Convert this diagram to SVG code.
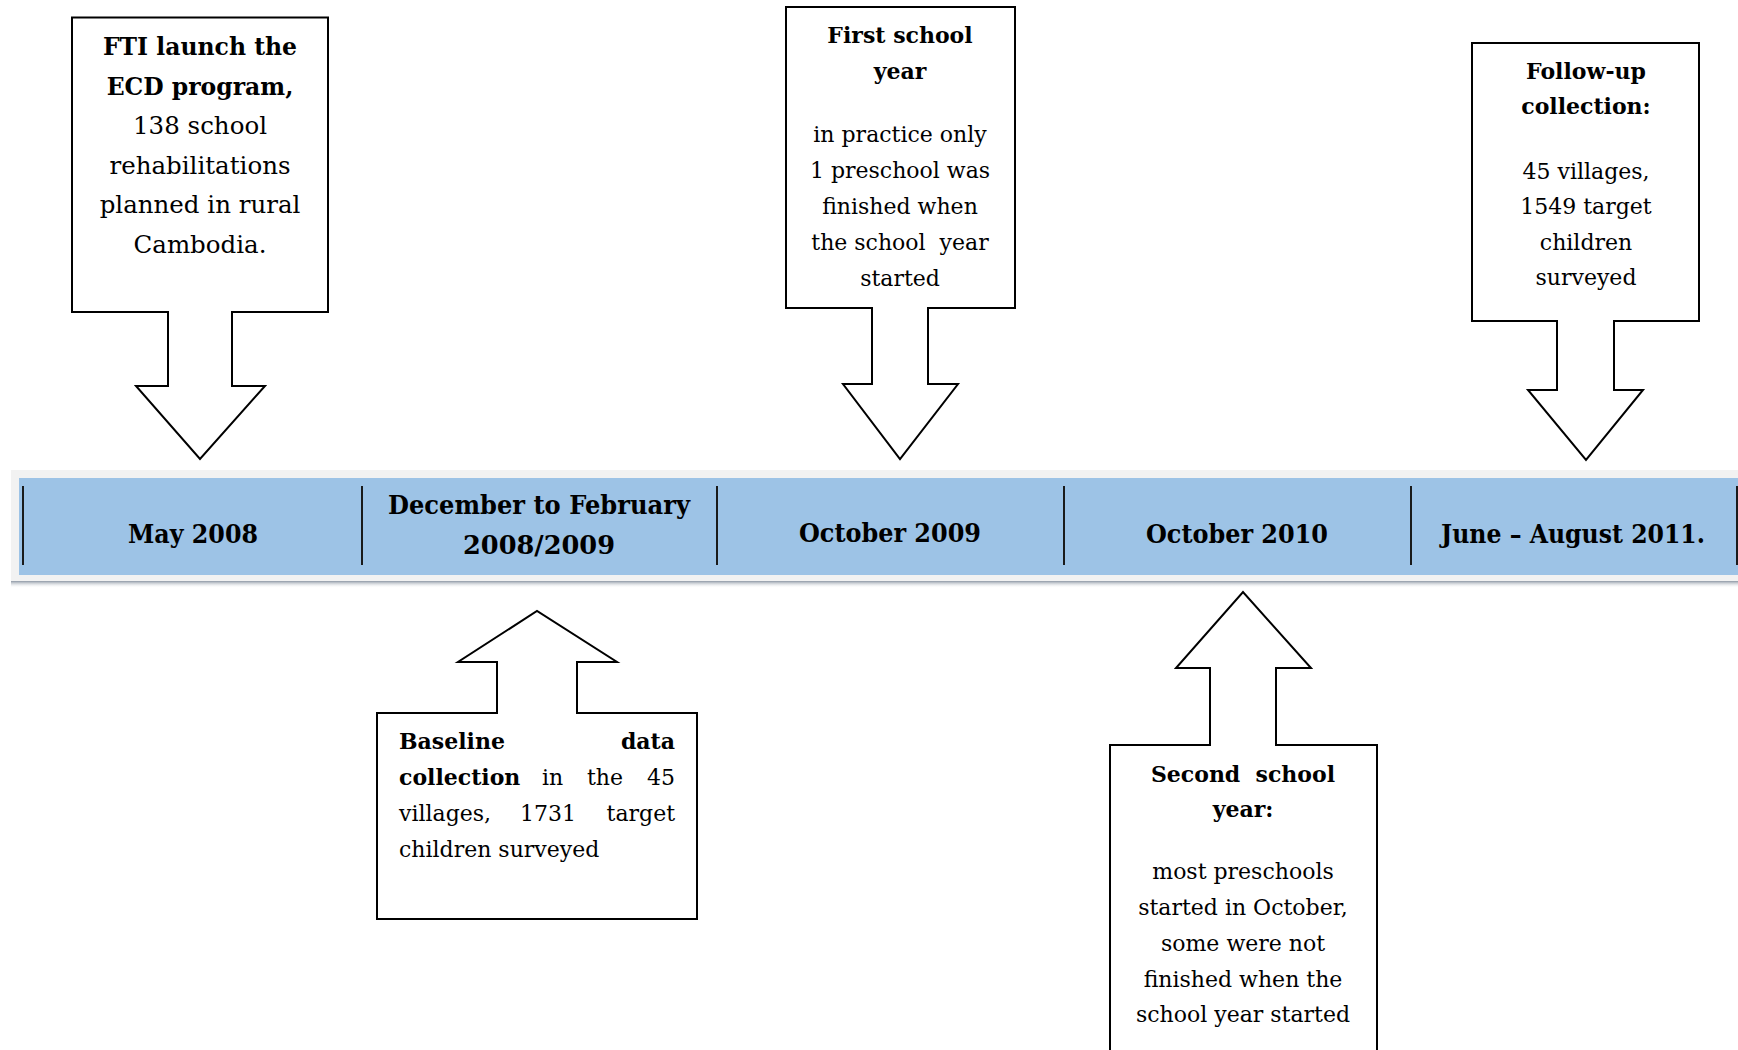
<svg xmlns="http://www.w3.org/2000/svg" width="1738" height="1050" viewBox="0 0 1738 1050">
<defs>
<linearGradient id="shadow" x1="0" y1="0" x2="0" y2="1">
<stop offset="0" stop-color="#8f99a6"/>
<stop offset="1" stop-color="#ffffff" stop-opacity="0"/>
</linearGradient>
<style>
.callout{fill:#ffffff;stroke:#000000;stroke-width:2;stroke-linejoin:miter}
.t{font-family:"DejaVu Serif","Liberation Serif",serif;font-size:22px;fill:#000;text-anchor:middle}
.big{font-size:24.5px}
.bigb{font-size:23.5px}
.b{font-weight:bold}
.bar{font-family:"DejaVu Serif","Liberation Serif",serif;font-size:26px;font-weight:bold;fill:#000;text-anchor:middle}
.sep{stroke:#1a1a1a;stroke-width:2}
</style>
</defs>
<rect width="1738" height="1050" fill="#ffffff"/>

<g id="timeline">
<rect x="11" y="470" width="1740" height="112" fill="#f2f2f2"/>
<rect x="11" y="581" width="1740" height="7" fill="url(#shadow)"/>
<rect x="19" y="478" width="1730" height="97" fill="#9dc3e6"/>
<line class="sep" x1="23" y1="486" x2="23" y2="565"/>
<line class="sep" x1="362" y1="486" x2="362" y2="565"/>
<line class="sep" x1="717" y1="486" x2="717" y2="565"/>
<line class="sep" x1="1064" y1="486" x2="1064" y2="565"/>
<line class="sep" x1="1411" y1="486" x2="1411" y2="565"/>
<line class="sep" x1="1737" y1="486" x2="1737" y2="565"/>
<text class="bar" x="193" y="543" textLength="130" lengthAdjust="spacingAndGlyphs">May 2008</text>
<text class="bar" x="539" y="514" textLength="302" lengthAdjust="spacingAndGlyphs">December to February</text>
<text class="bar" x="539" y="554" textLength="152" lengthAdjust="spacingAndGlyphs">2008/2009</text>
<text class="bar" x="890" y="542" textLength="182" lengthAdjust="spacingAndGlyphs">October 2009</text>
<text class="bar" x="1237" y="543" textLength="182" lengthAdjust="spacingAndGlyphs">October 2010</text>
<text class="bar" x="1573" y="543" textLength="264" lengthAdjust="spacingAndGlyphs">June – August 2011.</text>
</g>

<g id="connectors"></g>

<g id="node-fti">
<path class="callout" d="M72,17.5 H328 V312 H232 V386 H265 L200,459 L136,386 H168 V312 H72 Z"/>
<text class="t bigb b" x="200" y="55">FTI launch the</text>
<text class="t bigb b" x="200" y="95">ECD program,</text>
<text class="t big" x="200" y="134">138 school</text>
<text class="t big" x="200" y="174">rehabilitations</text>
<text class="t big" x="200" y="213">planned in rural</text>
<text class="t big" x="200" y="253">Cambodia.</text>
</g>

<g id="node-first-year">
<path class="callout" d="M786,7 H1015 V308 H928 V384 H958 L900,459 L843,384 H872 V308 H786 Z"/>
<text class="t b" x="900" y="43">First school</text>
<text class="t b" x="900" y="79">year</text>
<text class="t" x="900" y="142">in practice only</text>
<text class="t" x="900" y="178">1 preschool was</text>
<text class="t" x="900" y="214">finished when</text>
<text class="t" x="900" y="250" xml:space="preserve">the school  year</text>
<text class="t" x="900" y="286">started</text>
</g>

<g id="node-follow-up">
<path class="callout" d="M1472,43 H1699 V321 H1614 V390 H1643 L1586,460 L1528,390 H1557 V321 H1472 Z"/>
<text class="t b" x="1586" y="79">Follow-up</text>
<text class="t b" x="1586" y="114">collection:</text>
<text class="t" x="1586" y="179">45 villages,</text>
<text class="t" x="1586" y="214">1549 target</text>
<text class="t" x="1586" y="250">children</text>
<text class="t" x="1586" y="285">surveyed</text>
</g>

<g id="node-baseline">
<path class="callout" d="M377,713 H497 V662 H458 L537,611 L617,662 H577 V713 H697 V919 H377 Z"/>
<text class="t b" x="399" y="749" style="text-anchor:start">Baseline</text>
<text class="t b" x="675" y="749" style="text-anchor:end">data</text>
<text class="t b" x="399" y="785" style="text-anchor:start">collection</text>
<text class="t" x="542" y="785" style="text-anchor:start">in</text>
<text class="t" x="587" y="785" style="text-anchor:start">the</text>
<text class="t" x="675" y="785" style="text-anchor:end">45</text>
<text class="t" x="399" y="821" style="text-anchor:start">villages,</text>
<text class="t" x="520" y="821" style="text-anchor:start">1731</text>
<text class="t" x="675" y="821" style="text-anchor:end">target</text>
<text class="t" x="399" y="857" style="text-anchor:start">children surveyed</text>
</g>

<g id="node-second-year">
<path class="callout" d="M1110,745 H1210 V668 H1176 L1243,592 L1311,668 H1276 V745 H1377 V1060 H1110 Z"/>
<text class="t b" x="1243" y="782" xml:space="preserve">Second  school</text>
<text class="t b" x="1243" y="817">year:</text>
<text class="t" x="1243" y="879">most preschools</text>
<text class="t" x="1243" y="915">started in October,</text>
<text class="t" x="1243" y="951">some were not</text>
<text class="t" x="1243" y="987">finished when the</text>
<text class="t" x="1243" y="1022">school year started</text>
</g>
</svg>
